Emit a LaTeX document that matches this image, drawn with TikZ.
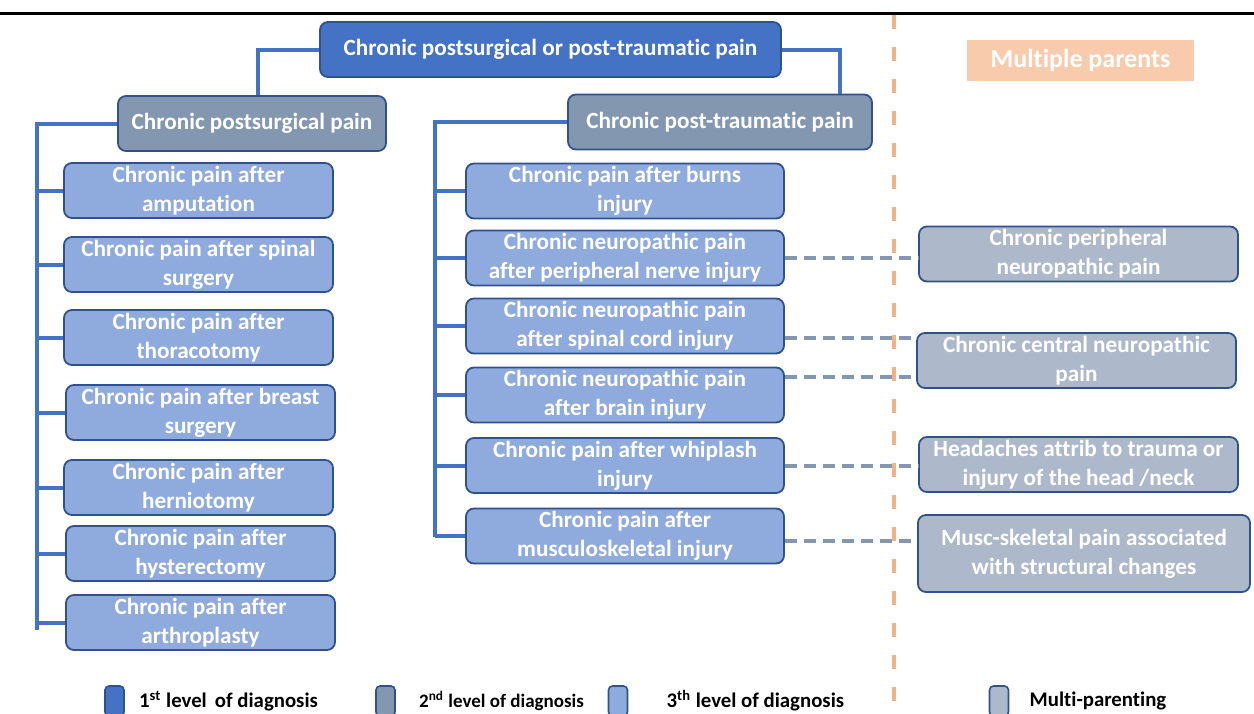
\documentclass[tikz,border=0pt]{standalone}
\usepackage{fontspec}
\setmainfont[Ligatures=NoCommon]{Carlito}
\usetikzlibrary{positioning}
\definecolor{lvlone}{HTML}{4472C4}
\definecolor{lvltwo}{HTML}{8497B0}
\definecolor{lvlthree}{HTML}{8FAADC}
\definecolor{multi}{HTML}{ADB9CA}
\definecolor{edgeblue}{HTML}{2F528F}
\definecolor{peach}{HTML}{F4B183}
\definecolor{peachfill}{HTML}{F8CBAD}
\tikzset{
  diag/.style={draw=edgeblue, line width=0.9pt, rounded corners=4pt, text=white,
    font=\bfseries\fontsize{11.6}{14.5}\selectfont, align=center, inner sep=0pt},
  first/.style={diag, fill=lvlone, minimum width=230.5pt, minimum height=27.5pt},
  second/.style={diag, fill=lvltwo, minimum height=27.5pt},
  third/.style={diag, fill=lvlthree, minimum height=27.5pt},
  multip/.style={diag, fill=multi, minimum height=27.5pt},
  tree/.style={draw=lvlone, line width=2pt},
  dashline/.style={draw=lvltwo, line width=2pt, dash pattern=on 6pt off 3.5pt},
  keybox/.style={draw=edgeblue, line width=0.8pt, rounded corners=2pt, minimum width=9.5pt, minimum height=15pt, inner sep=0pt},
  keytext/.style={font=\bfseries\fontsize{10.4}{11}\selectfont, inner sep=0pt}
}
\begin{document}
\begin{tikzpicture}[x=0.5pt,y=-0.5pt]
\useasboundingbox (0,0) rectangle (1254,713);
\draw[line width=1.5pt] (0,13) -- (1254,13);
\draw[peach, line width=2pt, dash pattern=on 7pt off 9pt] (894,15) -- (894,713);
\path node[first] (root) at (550.5,49.5) {Chronic postsurgical or post-traumatic pain}
node[second, minimum width=134pt] (ps) at (252,123.5) {Chronic postsurgical pain}
node[second, minimum width=152pt] (pt) at (720,122) {Chronic post-traumatic pain}
node[third, minimum width=134.5pt] (l1) at (198.5,190.5) {Chronic pain after\\amputation}
node[third, minimum width=134.5pt] (l2) at (198.5,264.5) {Chronic pain after spinal\\surgery}
node[third, minimum width=134.5pt] (l3) at (198.5,337.5) {Chronic pain after\\thoracotomy}
node[third, minimum width=134.5pt] (l4) at (200.5,412.5) {Chronic pain after breast\\surgery}
node[third, minimum width=134.5pt] (l5) at (198.5,487.5) {Chronic pain after\\herniotomy}
node[third, minimum width=134.5pt] (l6) at (200.5,553.5) {Chronic pain after\\hysterectomy}
node[third, minimum width=134.5pt] (l7) at (200.5,622.5) {Chronic pain after\\arthroplasty}
node[third, minimum width=159pt] (r1) at (625,191) {Chronic pain after burns\\injury}
node[third, minimum width=159pt] (r2) at (625,258) {Chronic neuropathic pain\\after peripheral nerve injury}
node[third, minimum width=159pt] (r3) at (625,326) {Chronic neuropathic pain\\after spinal cord injury}
node[third, minimum width=159pt] (r4) at (625,395) {Chronic neuropathic pain\\after brain injury}
node[third, minimum width=159pt] (r5) at (625,465.5) {Chronic pain after whiplash\\injury}
node[third, minimum width=159pt] (r6) at (625,536) {Chronic pain after\\musculoskeletal injury}
node[multip, minimum width=159.5pt] (ma) at (1078.5,254) {Chronic peripheral\\neuropathic pain}
node[multip, minimum width=159.5pt] (mb) at (1076.5,360.5) {Chronic central neuropathic\\pain}
node[multip, minimum width=159.5pt] (mc) at (1078.5,464.5) {Headaches attrib to trauma or\\injury of the head /neck}
node[multip, minimum width=166pt, minimum height=38.5pt] (md) at (1084,553.5) {Musc-skeletal pain associated\\with structural changes}
node[fill=peachfill, text=white, font=\bfseries\fontsize{13}{14}\selectfont, minimum width=113.5pt, minimum height=20.5pt, inner sep=0pt] (mp) at (1080.5,60.5) {Multiple parents}
;
% tree connectors
\coordinate (lspine) at (37,630);
\coordinate (rspine) at (435,537);
\draw[tree] (root.west) -| ([xshift=3pt]ps.north);
\draw[tree] (root.east) -| ([xshift=60pt]pt.north);
\draw[tree] (ps.west) -| (lspine);
\draw[tree] (pt.west) -| (rspine);
\foreach \n in {l1,l2,l3,l4,l5,l6,l7}
  \draw[tree] (lspine |- \n.west) -- (\n.west);
\foreach \n in {r1,r2,r3,r4,r5,r6}
  \draw[tree] (rspine |- \n.west) -- (\n.west);
% multi-parenting links
\draw[dashline] (r2.east) -- (r2.east -| ma.west);
\draw[dashline] ([yshift=-6pt]r3.east) -- ([yshift=-6pt]r3.east -| mb.west);
\draw[dashline] ([yshift=9pt]r4.east) -- ([yshift=9pt]r4.east -| mb.west);
\draw[dashline] (r5.east) -- (r5.east -| mc.west);
\draw[dashline] ([yshift=-2.5pt]r6.east) -- ([yshift=-2.5pt]r6.east -| md.west);
% legend
\path node[keybox, fill=lvlone] (k1) at (114.5,701) {}
node[keytext, right=7pt of k1] (k1t) {1\textsuperscript{st} level\, of diagnosis}
node[keybox, fill=lvltwo] (k2) at (385.5,701) {}
node[keytext, right=11.5pt of k2, font=\bfseries\fontsize{9.5}{10}\selectfont] (k2t) {2\textsuperscript{nd} level of diagnosis}
node[keybox, fill=lvlthree] (k3) at (618,701) {}
node[keytext, right=19pt of k3] (k3t) {3\textsuperscript{th} level of diagnosis}
node[keybox, fill=multi] (k4) at (999,701) {}
node[keytext, right=10pt of k4] (k4t) {Multi-parenting};
\end{tikzpicture}
\end{document}
